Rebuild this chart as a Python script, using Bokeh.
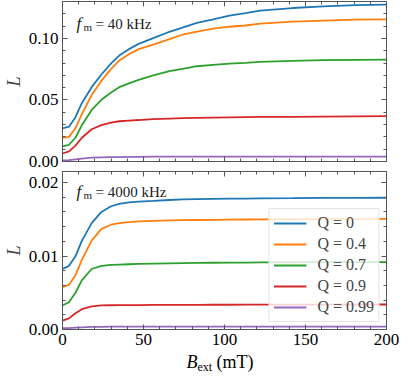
from bokeh.plotting import figure
from bokeh.layouts import column
from bokeh.models import (Range1d, LinearAxis, FixedTicker, NumeralTickFormatter,
                          CustomJSTickFormatter, Label, Legend, LegendItem, Div)
from bokeh.embed import file_html
from bokeh.resources import INLINE

# ---------------- data ----------------
B_ext = [0, 4, 8, 12, 18, 24, 30, 35, 41, 47, 56, 66, 74, 83, 93, 103, 113, 122, 142, 161, 181, 200]

# f_m = 40 kHz
L40_Q0 = [0.0270, 0.0283, 0.0360, 0.0476, 0.0604, 0.0707, 0.0797, 0.0861, 0.0913, 0.0956, 0.1002,
          0.1054, 0.1087, 0.1127, 0.1154, 0.1185, 0.1206, 0.1226, 0.1247, 0.1260, 0.1270, 0.1275]
L40_Q04 = [0.0193, 0.0200, 0.0270, 0.0386, 0.0540, 0.0655, 0.0753, 0.0820, 0.0871, 0.0913, 0.0950,
           0.0995, 0.1030, 0.1055, 0.1079, 0.1095, 0.1105, 0.1120, 0.1136, 0.1144, 0.1152, 0.1154]
L40_Q07 = [0.0123, 0.0136, 0.0193, 0.0296, 0.0419, 0.0501, 0.0560, 0.0604, 0.0635, 0.0663, 0.0700,
           0.0735, 0.0753, 0.0774, 0.0785, 0.0795, 0.0802, 0.0810, 0.0817, 0.0823, 0.0826, 0.0828]
L40_Q09 = [0.0065, 0.0082, 0.0129, 0.0193, 0.0262, 0.0296, 0.0316, 0.0327, 0.0332, 0.0337, 0.0345,
           0.0349, 0.0352, 0.0355, 0.0357, 0.0359, 0.0361, 0.0362, 0.0363, 0.0365, 0.0367, 0.0368]
L40_Q099 = [0.0008, 0.0011, 0.0018, 0.0024, 0.0031, 0.0034, 0.0035, 0.0036, 0.0037, 0.0038, 0.0039,
            0.0039, 0.0039, 0.0039, 0.0040, 0.0040, 0.0040, 0.0040, 0.0040, 0.0040, 0.0040, 0.0040]

# f_m = 4000 kHz
L4000_Q0 = [0.00823, 0.00866, 0.00996, 0.01210, 0.01448, 0.01600, 0.01677, 0.01710, 0.01729, 0.01741, 0.01750,
            0.01762, 0.01770, 0.01775, 0.01778, 0.01780, 0.01782, 0.01785, 0.01787, 0.01790, 0.01792, 0.01793]
L4000_Q04 = [0.00578, 0.00608, 0.00737, 0.00952, 0.01210, 0.01370, 0.01426, 0.01448, 0.01461, 0.01470, 0.01478,
             0.01484, 0.01488, 0.01490, 0.01492, 0.01495, 0.01497, 0.01499, 0.01500, 0.01502, 0.01503, 0.01504]
L4000_Q07 = [0.00327, 0.00371, 0.00500, 0.00672, 0.00823, 0.00866, 0.00879, 0.00884, 0.00888, 0.00892, 0.00896,
             0.00900, 0.00903, 0.00906, 0.00908, 0.00910, 0.00911, 0.00913, 0.00914, 0.00916, 0.00917, 0.00918]
L4000_Q09 = [0.00120, 0.00151, 0.00220, 0.00276, 0.00314, 0.00327, 0.00330, 0.00331, 0.00332, 0.00333, 0.00334,
             0.00335, 0.00336, 0.00336, 0.00337, 0.00337, 0.00338, 0.00338, 0.00339, 0.00339, 0.00340, 0.00340]
L4000_Q099 = [0.00017, 0.00020, 0.00026, 0.00030, 0.00035, 0.00037, 0.00038, 0.00039, 0.00040, 0.00040, 0.00040,
              0.00040, 0.00040, 0.00040, 0.00040, 0.00040, 0.00040, 0.00040, 0.00040, 0.00040, 0.00040, 0.00040]

Q_labels = ["Q = 0", "Q = 0.4", "Q = 0.7", "Q = 0.9", "Q = 0.99"]
colors = ["#1f77b4", "#ff7f0e", "#2ca02c", "#d62728", "#9467bd"]
x_ticks = [0, 50, 100, 150, 200]
x_minor = list(range(0, 201, 10))
top_yticks = [0.0, 0.05, 0.10]
top_yminor = [i / 100 for i in range(0, 14)]
bot_yticks = [0.0, 0.01, 0.02]
bot_yminor = [i / 1000 for i in range(0, 22, 2)]

FONT = "Liberation Serif"
AX = "#555555"


def style_axis(ax, labels=True, fixed=None):
    ax.major_tick_in = 5
    ax.major_tick_out = 0
    ax.minor_tick_in = 3
    ax.minor_tick_out = 0
    ax.axis_line_color = AX
    ax.major_tick_line_color = AX
    ax.minor_tick_line_color = AX
    ax.major_label_text_font = FONT
    ax.major_label_text_color = "#000000"
    ax.axis_label = None
    ax.axis_label_standoff = 0
    if labels:
        ax.major_label_text_font_size = "17px"
        ax.major_label_standoff = 4
    else:
        ax.formatter = CustomJSTickFormatter(code="return ''")
        ax.major_label_text_font_size = "1px"
        ax.major_label_standoff = 0
        ax.fixed_location = fixed   # tick-only axis: drawn on the frame edge, takes no side space


def make_fig(height, ymax, yticks, yminor, series, show_x_labels, border_top, border_bottom):
    p = figure(width=399, height=height, output_backend="svg", toolbar_location=None,
               x_range=Range1d(0, 200), y_range=Range1d(0, ymax),
               min_border_left=0, min_border_right=13,
               min_border_top=border_top, min_border_bottom=border_bottom)
    p.outline_line_color = AX
    p.grid.visible = False
    xt = FixedTicker(ticks=x_ticks, minor_ticks=x_minor)
    yt = FixedTicker(ticks=yticks, minor_ticks=yminor)
    p.xaxis.ticker = xt
    p.yaxis.ticker = yt
    for ax in p.xaxis:
        style_axis(ax, show_x_labels, fixed=0)
    for ax in p.yaxis:
        style_axis(ax, True)
        ax.formatter = NumeralTickFormatter(format="0.00")
        ax.axis_label = "L"
        ax.axis_label_text_font = FONT
        ax.axis_label_text_font_style = "italic"
        ax.axis_label_text_font_size = "18px"
        ax.axis_label_standoff = 2
    ra = LinearAxis(ticker=yt)
    style_axis(ra, False, fixed=200)
    p.add_layout(ra, "right")
    ta = LinearAxis(ticker=xt)
    style_axis(ta, False, fixed=ymax)
    p.add_layout(ta, "above")
    rends = []
    for ys, c in zip(series, colors):
        rends.append(p.line(B_ext, ys, line_color=c, line_width=1.8))
    return p, rends


def add_fm(p, ymax, text, base_off):
    common = dict(x=0, y=ymax, x_units="data", y_units="data", text_font=FONT,
                  text_color="#222222", text_baseline="alphabetic", text_align="left")
    p.add_layout(Label(text="f", x_offset=14, y_offset=-base_off, text_font_size="17px",
                       text_font_style="italic", **common))
    p.add_layout(Label(text="m", x_offset=21, y_offset=-base_off - 3, text_font_size="11px", **common))
    p.add_layout(Label(text=text, x_offset=33, y_offset=-base_off, text_font_size="15px", **common))


top, _ = make_fig(170, 0.13, top_yticks, top_yminor,
                  [L40_Q0, L40_Q04, L40_Q07, L40_Q09, L40_Q099], False, 1, 9)
add_fm(top, 0.13, "= 40 kHz", 22)

bot, rends = make_fig(183, 0.0215, bot_yticks, bot_yminor,
                      [L4000_Q0, L4000_Q04, L4000_Q07, L4000_Q09, L4000_Q099], True, 1, 24)
add_fm(bot, 0.0215, "= 4000 kHz", 20)

legend = Legend(items=[LegendItem(label=l, renderers=[r]) for l, r in zip(Q_labels, rends)],
                location="bottom_right")
legend.label_text_font = FONT
legend.label_text_font_size = "16px"
legend.glyph_width = 33
legend.glyph_height = 20
legend.label_height = 20
legend.label_standoff = 11
legend.spacing = 1
legend.padding = 4
legend.margin = 7
legend.border_line_color = "#cccccc"
legend.background_fill_alpha = 0.8
bot.add_layout(legend, "center")

# x-axis label: B_ext (mT), as real HTML text under the bottom panel
xlabel_html = (
    '<div style="margin-left:54px; width:332px; text-align:center; '
    "font-family:'Liberation Serif', serif; font-size:18px; line-height:19px; color:#000;\">"
    '<i>B</i><span style="font-size:12px; position:relative; top:3px;">ext</span> (mT)</div>'
)
xlabel = Div(text=xlabel_html, width=399, height=19, margin=0)

layout = column(top, bot, xlabel, spacing=0)
open("out.html", "w").write(file_html(layout, INLINE))
